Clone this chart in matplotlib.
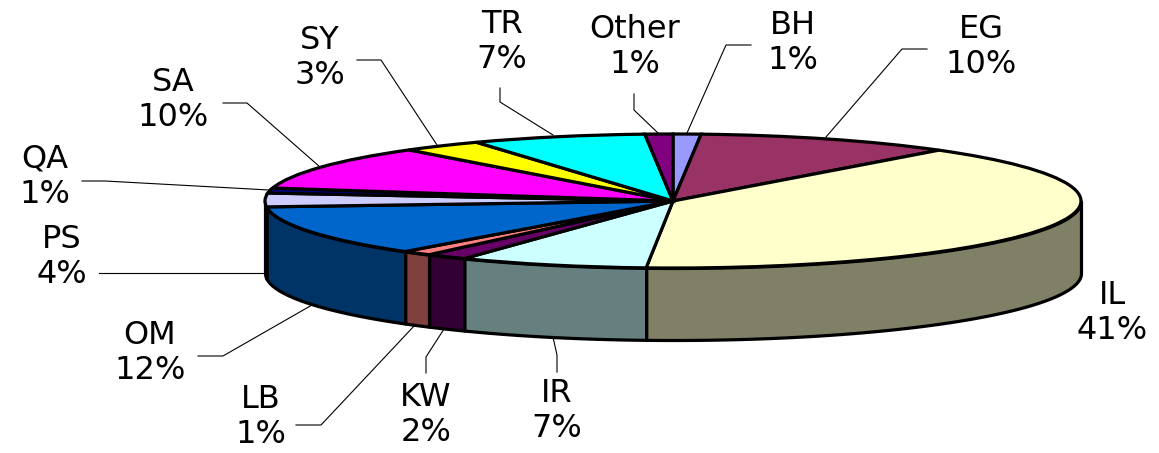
import matplotlib
matplotlib.use("Agg")
import matplotlib.colors as mcolors
import matplotlib.pyplot as plt
import matplotlib.transforms as mtransforms
import numpy as np

# slices clockwise from 12 o'clock
countries = ["BH", "EG", "IL", "IR", "KW", "LB", "OM", "PS", "QA", "SA", "SY", "TR", "Other"]
percent_labels = ["1%", "10%", "41%", "7%", "2%", "1%", "12%", "4%", "1%", "10%", "3%", "7%", "1%"]
# slice sizes as drawn in the picture
slice_sizes = [1.1, 10.2, 39.75, 7.5, 1.65, 1.2, 12.2, 3.3, 1.2, 10.7, 3.2, 6.9, 1.1]
slice_colors = ["#9999FF", "#993366", "#FFFFCC", "#CCFFFF", "#660066", "#FF8080", "#0066CC",
                "#CCCCFF", "#000080", "#FF00FF", "#FFFF00", "#00FFFF", "#800080"]

# label block centres, in pixels of the image
label_x = [793, 981, 1112, 557, 426, 261, 150, 62, 45, 173, 320, 502, 635]
label_y = [43, 47, 313, 411, 415, 417, 353, 257, 177, 100, 58, 42, 47]

# leader lines, in pixels of the image (IL has none)
leader_lines = [
    [(751, 45), (726, 45), (687, 133)],
    [(927, 49), (902, 49), (826, 137)],
    [(557, 372), (557, 355), (553, 337)],
    [(426, 373), (426, 357), (444, 329)],
    [(296, 425), (321, 425), (415, 325)],
    [(198, 356), (223, 356), (312, 305)],
    [(99, 273), (264, 273)],
    [(82, 181), (105, 181), (269, 190)],
    [(223, 103), (247, 103), (320, 167)],
    [(357, 60), (381, 60), (437, 145)],
    [(500, 88), (500, 102), (553, 135)],
    [(634, 94), (634, 110), (658, 133)],
]

WIDTH, HEIGHT = 1159, 453
CENTER_X, CENTER_Y = 673, 201
RADIUS_X, RADIUS_Y = 408, 67
DEPTH = 72 / RADIUS_Y
EDGE_WIDTH = 2.3

fig = plt.figure(figsize=(WIDTH / 100, HEIGHT / 100), dpi=100, facecolor="#ffffff")
ax = fig.add_axes([0, 0, 1, 1])

wedges, _ = ax.pie(slice_sizes, colors=slice_colors, startangle=90, counterclock=False,
                   wedgeprops={"edgecolor": "#000000", "linewidth": EDGE_WIDTH, "zorder": 3})

# squash the circle to an ellipse
ax.set_aspect("auto")
ax.set_xlim(-CENTER_X / RADIUS_X, (WIDTH - CENTER_X) / RADIUS_X)
ax.set_ylim((CENTER_Y - HEIGHT) / RADIUS_Y, CENTER_Y / RADIUS_Y)
ax.axis("off")

# side wall of every slice that faces the viewer
for wedge, color in zip(wedges, slice_colors):
    theta = np.radians(np.linspace(wedge.theta1, wedge.theta2, 300))
    theta = theta[np.sin(theta) <= 0]
    if len(theta) < 2:
        continue
    dark = tuple(c * 0.5 for c in mcolors.to_rgb(color))
    ax.fill_between(np.cos(theta), np.sin(theta), np.sin(theta) - DEPTH, color=dark,
                    edgecolor="#000000", linewidth=EDGE_WIDTH, zorder=2)

pixels = mtransforms.Affine2D().scale(1, -1).translate(0, HEIGHT)

for line in leader_lines:
    xs, ys = zip(*line)
    ax.plot(xs, ys, color="#000000", linewidth=0.8, transform=pixels, zorder=1)

for name, pct, x, y in zip(countries, percent_labels, label_x, label_y):
    ax.text(x, y, f"{name}\n{pct}", transform=pixels, ha="center", va="center",
            multialignment="center", fontsize=23, family="DejaVu Sans", linespacing=1.2,
            color="#000000", zorder=4)

fig.savefig("out.png", dpi=100)
